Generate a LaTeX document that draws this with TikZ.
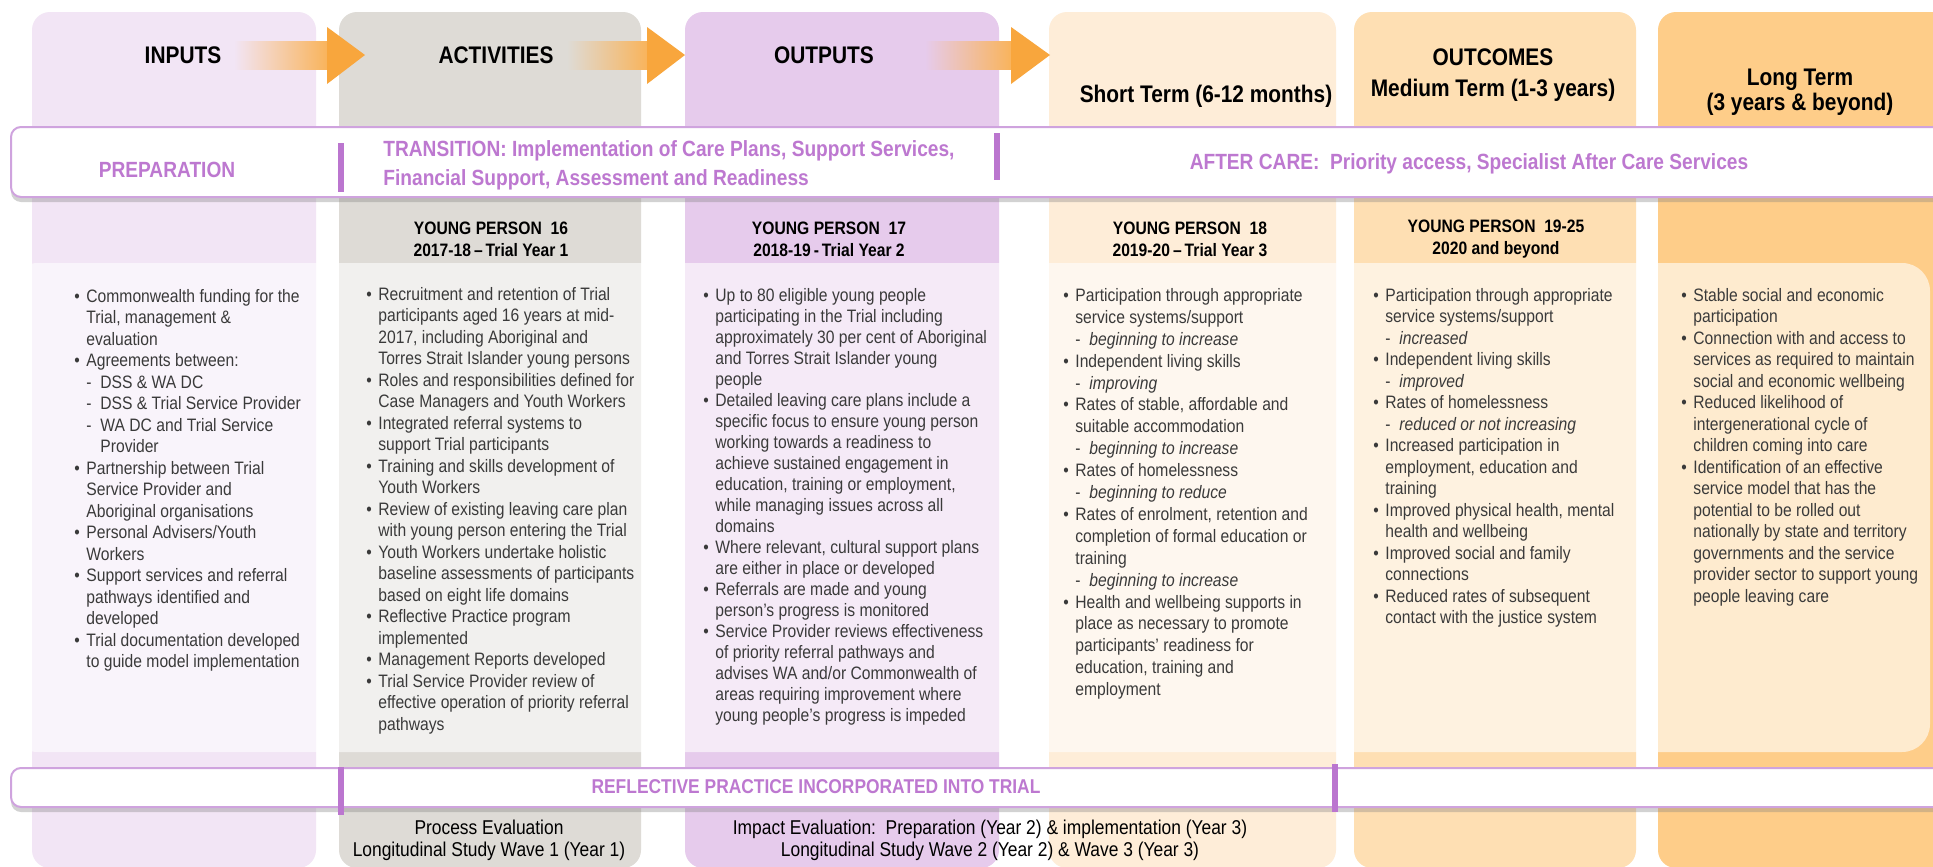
\documentclass[tikz,border=0pt]{standalone}
\usepackage{fontspec}
\setmainfont[FakeStretch=0.87]{Liberation Sans}
\usetikzlibrary{shadows}
\definecolor{cin}{HTML}{F2E5F5}
\definecolor{cact}{HTML}{DEDBD6}
\definecolor{cout}{HTML}{E6CBEC}
\definecolor{cshort}{HTML}{FEEDD8}
\definecolor{cmed}{HTML}{FEDFB3}
\definecolor{clong}{HTML}{FECD89}
\definecolor{purtext}{HTML}{BD78D0}
\definecolor{bandborder}{HTML}{CFA3DE}
\definecolor{barpurple}{HTML}{BB76CF}
\definecolor{arrorange}{HTML}{F8A63D}
\definecolor{bodytext}{HTML}{3A3A3A}
\newcommand{\bu}{\makebox[6pt][l]{\textbullet}}
\newcommand{\hg}{\hspace*{6pt}}
\newcommand{\sd}{\makebox[7pt][l]{-}}
\newcommand{\sh}{\hspace*{7pt}}
\tikzset{
  colbox/.style={rounded corners=9pt, draw=none},
  band/.style={fill=white, draw=bandborder, line width=1pt, rounded corners=5pt,
    drop shadow={opacity=0.35, shadow xshift=0pt, shadow yshift=-2.5pt}},
  bar/.style={fill=barpurple, draw=none},
  hdr/.style={font=\bfseries\fontsize{12}{14}\selectfont, text=black, align=center, inner sep=0},
  yp/.style={font=\bfseries\fontsize{9}{11}\selectfont, text=black, align=center, inner sep=0},
  bandtxt/.style={font=\bfseries\fontsize{11}{14.5}\selectfont, text=purtext, inner sep=0},
  bodytxt/.style={font=\fontsize{9}{10.75}\selectfont, text=bodytext, align=left, inner sep=0, anchor=north west},
  bottxt/.style={font=\fontsize{10}{11}\selectfont, text=black, align=center, inner sep=0},
}
\begin{document}
\begin{tikzpicture}[x=0.5pt,y=-0.5pt]
\useasboundingbox (0,0) rectangle (1933,867);
\clip (0,0) rectangle (1933,867);
\fill[white] (0,0) rectangle (1933,867);
% columns
\fill[colbox, cin] (32,12) rectangle (316,868);
\fill[colbox, cact] (339,12) rectangle (641,868);
\fill[colbox, cout] (685,12) rectangle (999,868);
\fill[colbox, cshort] (1049,12) rectangle (1336,868);
\fill[colbox, cmed] (1354,12) rectangle (1636,868);
\fill[colbox, clong] (1658,12) rectangle (1975,868);
% arrows
\shade[left color=cin, right color=arrorange!85] (234,41) rectangle (328,69);
\fill[arrorange] (327,27) -- (365,55) -- (327,84) -- cycle;
\shade[left color=cact, right color=arrorange!85] (567,41) rectangle (648,69);
\fill[arrorange] (647,27) -- (685,55) -- (647,84) -- cycle;
\shade[left color=cout, right color=arrorange!85] (925,41) rectangle (1012,69);
\fill[arrorange] (1011,27) -- (1050,55) -- (1011,84) -- cycle;
% headers
\node[hdr] (hin) at (183,55) {INPUTS};
\node[hdr] (hact) at (496,55) {ACTIVITIES};
\node[hdr] (hout) at (824,55) {OUTPUTS};
\node[hdr] (hshort) at (1206,96) {Short Term (6-12 months)};
\node[hdr] (hoc) at (1493,57) {OUTCOMES};
\node[hdr] (hmed) at (1493,90) {Medium Term (1-3 years)};
\node[hdr] (hlong) at (1800,80) {Long Term};
\node[hdr] (hlong2) at (1800,104) {(3 years \& beyond)};
% band 1
\path[band] (11,127) rectangle (1950,197);
\fill[bar] (338,143) rectangle (344,192);
\fill[bar] (994,133) rectangle (1000,180);
\node[bandtxt] (prep) at (167,170) {PREPARATION};
\node[bandtxt, align=left, anchor=west] (trans) at (383,165) {TRANSITION: Implementation of Care Plans, Support Services,\\Financial Support, Assessment and Readiness};
\node[bandtxt] (after) at (1469,164) {AFTER CARE:\ \ Priority access, Specialist After Care Services};
% year headings
\node[yp] (y16) at (491,239) {YOUNG PERSON\ \ 16\\2017-18\,--\,Trial Year 1};
\node[yp] (y17) at (829,239) {YOUNG PERSON\ \ 17\\2018-19\,-\,Trial Year 2};
\node[yp] (y18) at (1190,239) {YOUNG PERSON\ \ 18\\2019-20\,--\,Trial Year 3};
\node[yp] (y19) at (1496,239) {YOUNG PERSON\ \ 19-25\\2020 and beyond};
% overlay
\fill[white, fill opacity=0.6, rounded corners=14pt] (10,263) rectangle (1930,752);
% body texts
\node[bodytxt] (tin) at (74,289) {%
\bu Commonwealth funding for the\\
\hg Trial, management \&\\
\hg evaluation\\
\bu Agreements between:\\
\hg\sd DSS \& WA DC\\
\hg\sd DSS \& Trial Service Provider\\
\hg\sd WA DC and Trial Service\\
\hg\sh Provider\\
\bu Partnership between Trial\\
\hg Service Provider and\\
\hg Aboriginal organisations\\
\bu Personal Advisers/Youth\\
\hg Workers\\
\bu Support services and referral\\
\hg pathways identified and\\
\hg developed\\
\bu Trial documentation developed\\
\hg to guide model implementation};
\node[bodytxt] (tact) at (366,287) {%
\bu Recruitment and retention of Trial\\
\hg participants aged 16 years at mid-\\
\hg 2017, including Aboriginal and\\
\hg Torres Strait Islander young persons\\
\bu Roles and responsibilities defined for\\
\hg Case Managers and Youth Workers\\
\bu Integrated referral systems to\\
\hg support Trial participants\\
\bu Training and skills development of\\
\hg Youth Workers\\
\bu Review of existing leaving care plan\\
\hg with young person entering the Trial\\
\bu Youth Workers undertake holistic\\
\hg baseline assessments of participants\\
\hg based on eight life domains\\
\bu Reflective Practice program\\
\hg implemented\\
\bu Management Reports developed\\
\bu Trial Service Provider review of\\
\hg effective operation of priority referral\\
\hg pathways};
\node[bodytxt, font=\fontsize{9}{10.5}\selectfont] (tout) at (703,288) {%
\bu Up to 80 eligible young people\\
\hg participating in the Trial including\\
\hg approximately 30 per cent of Aboriginal\\
\hg and Torres Strait Islander young\\
\hg people\\
\bu Detailed leaving care plans include a\\
\hg specific focus to ensure young person\\
\hg working towards a readiness to\\
\hg achieve sustained engagement in\\
\hg education, training or employment,\\
\hg while managing issues across all\\
\hg domains\\
\bu Where relevant, cultural support plans\\
\hg are either in place or developed\\
\bu Referrals are made and young\\
\hg person's progress is monitored\\
\bu Service Provider reviews effectiveness\\
\hg of priority referral pathways and\\
\hg advises WA and/or Commonwealth of\\
\hg areas requiring improvement where\\
\hg young people's progress is impeded};
\node[bodytxt, font=\fontsize{9}{10.95}\selectfont] (tshort) at (1063,288) {%
\bu Participation through appropriate\\
\hg service systems/support\\
\hg\sd\textit{beginning to increase}\\
\bu Independent living skills\\
\hg\sd\textit{improving}\\
\bu Rates of stable, affordable and\\
\hg suitable accommodation\\
\hg\sd\textit{beginning to increase}\\
\bu Rates of homelessness\\
\hg\sd\textit{beginning to reduce}\\
\bu Rates of enrolment, retention and\\
\hg completion of formal education or\\
\hg training\\
\hg\sd\textit{beginning to increase}\\
\bu Health and wellbeing supports in\\
\hg place as necessary to promote\\
\hg participants' readiness for\\
\hg education, training and\\
\hg employment};
\node[bodytxt] (tmed) at (1373,288) {%
\bu Participation through appropriate\\
\hg service systems/support\\
\hg\sd\textit{increased}\\
\bu Independent living skills\\
\hg\sd\textit{improved}\\
\bu Rates of homelessness\\
\hg\sd\textit{reduced or not increasing}\\
\bu Increased participation in\\
\hg employment, education and\\
\hg training\\
\bu Improved physical health, mental\\
\hg health and wellbeing\\
\bu Improved social and family\\
\hg connections\\
\bu Reduced rates of subsequent\\
\hg contact with the justice system};
\node[bodytxt] (tlong) at (1681,288) {%
\bu Stable social and economic\\
\hg participation\\
\bu Connection with and access to\\
\hg services as required to maintain\\
\hg social and economic wellbeing\\
\bu Reduced likelihood of\\
\hg intergenerational cycle of\\
\hg children coming into care\\
\bu Identification of an effective\\
\hg service model that has the\\
\hg potential to be rolled out\\
\hg nationally by state and territory\\
\hg governments and the service\\
\hg provider sector to support young\\
\hg people leaving care};
% band 2
\path[band] (11,768) rectangle (1950,807);
\fill[bar] (338,767) rectangle (344,815);
\fill[bar] (1332,764) rectangle (1338,812);
\node[bandtxt, font=\bfseries\fontsize{10}{12}\selectfont] (refl) at (816,787) {REFLECTIVE PRACTICE INCORPORATED INTO TRIAL};
% bottom texts
\node[bottxt] (proc) at (489,840) {Process Evaluation\\Longitudinal Study Wave 1 (Year 1)};
\node[bottxt] (imp) at (990,840) {Impact Evaluation:\ \ Preparation (Year 2) \& implementation (Year 3)\\Longitudinal Study Wave 2 (Year 2) \& Wave 3 (Year 3)};
\end{tikzpicture}
\end{document}
